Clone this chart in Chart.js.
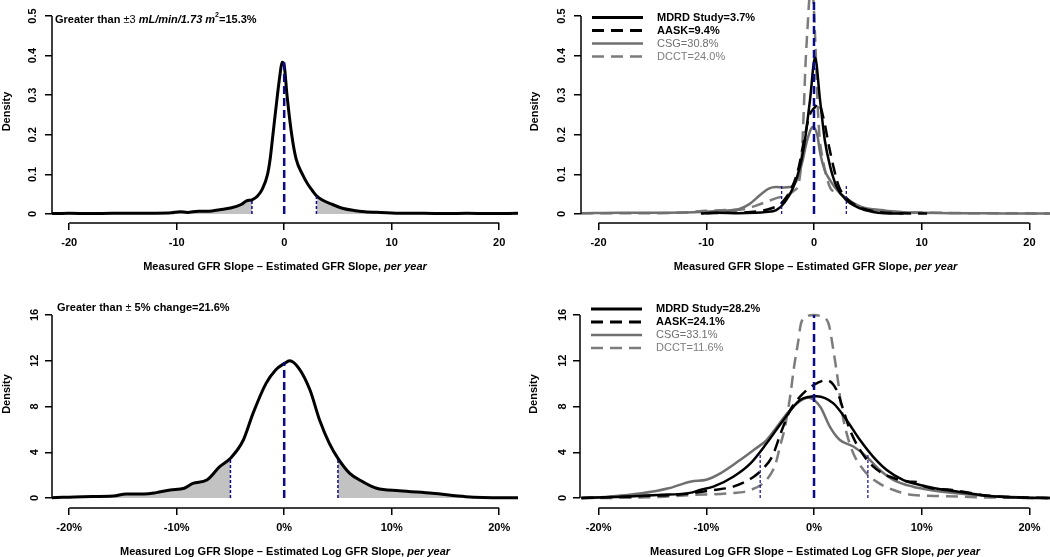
<!DOCTYPE html>
<html>
<head>
<meta charset="utf-8">
<script src="https://cdn.jsdelivr.net/npm/chart.js@4"></script>
<style>
  body { margin: 0; background: #fff; width: 1050px; height: 557px; position: relative; overflow: hidden; }
  canvas { position: absolute; }
</style>
</head>
<body>
<canvas id="absAll" width="525" height="280" style="left:0;top:0"></canvas>
<canvas id="absStudy" width="525" height="280" style="left:525px;top:0"></canvas>
<canvas id="logAll" width="525" height="277" style="left:0;top:280px"></canvas>
<canvas id="logStudy" width="525" height="277" style="left:525px;top:280px"></canvas>
<script>
// axis ticks
const slopeTicks = [-20, -10, 0, 10, 20];
const absDensityTicks = [0, 0.1, 0.2, 0.3, 0.4, 0.5];
const logDensityTicks = [0, 4, 8, 12, 16];

// labels
const studies = ['MDRD Study', 'AASK', 'CSG', 'DCCT'];
const absShare = ['3.7', '9.4', '30.8', '24.0'];
const logShare = ['28.2', '24.1', '33.1', '11.6'];
const absPooledShare = '15.3';
const logPooledShare = '21.6';
const absCut = 3;
const logCut = 5;

// pooled density, measured - estimated GFR slope (ml/min/1.73m2 per year)
const absAllX = [-21.6,-20,-18,-16,-14,-12,-10.5,-9.7,-9,-8,-7,-6,-5,-4,-3.5,-3,-2.5,-2,-1.55,-1.3,-1.05,-0.63,-0.4,-0.2,0,0.26,0.7,1.1,1.7,2.2,2.6,3,3.5,4.5,5.5,6.5,7.5,9,11,13,15,17,19,21.75];
const absAllY = [0.001,0.002,0.001,0.002,0.002,0.002,0.003,0.006,0.004,0.007,0.007,0.011,0.015,0.024,0.033,0.036,0.045,0.065,0.1,0.14,0.2,0.3,0.35,0.383,0.375,0.3,0.2,0.14,0.1,0.075,0.06,0.046,0.036,0.024,0.014,0.009,0.006,0.004,0.002,0.002,0.001,0.002,0.001,0.002];

// per study densities
const absMdrdX = [-10.5,-9,-7,-5.5,-4.5,-3.5,-2.7,-1.9,-1.3,-0.84,-0.37,0.1,0.56,1.0,1.5,2.1,3.0,4.3,5.5,6.5,8.3];
const absMdrdY = [0.001,0.003,0.002,0.003,0.005,0.01,0.03,0.069,0.12,0.187,0.288,0.395,0.288,0.187,0.12,0.069,0.035,0.014,0.005,0.002,0.001];
const absAaskX = [-10,-8,-6.5,-5,-4,-3,-2,-1.4,-0.9,-0.4,0.1,0.4,0.9,1.4,1.8,2.3,3,4,5,6,7.5,10.5];
const absAaskY = [0.002,0.003,0.004,0.008,0.014,0.028,0.07,0.12,0.19,0.25,0.27,0.28,0.24,0.17,0.12,0.07,0.04,0.02,0.01,0.005,0.002,0.001];
const absCsgX = [-21.6,-18,-15,-12,-10,-8,-7,-6,-5,-4.2,-3.5,-2.8,-2.2,-1.6,-1.1,-0.6,-0.1,0.3,0.6,1.0,1.5,1.9,2.5,3.2,4.4,6,8,10,13,16,19,21.9];
const absCsgY = [0.002,0.003,0.003,0.004,0.006,0.009,0.012,0.025,0.048,0.064,0.068,0.067,0.068,0.085,0.13,0.19,0.22,0.2,0.15,0.11,0.085,0.069,0.05,0.035,0.018,0.01,0.005,0.003,0.002,0.002,0.001,0.001];
const absDcctX = [-21.6,-16,-12,-10,-8,-6.5,-5.5,-4.5,-3.5,-2.5,-1.9,-1.4,-1.15,-0.95,-0.8,-0.6,-0.35,-0.1,0.1,0.3,0.5,0.8,1.2,1.6,2.2,3,4,5,6.3,7,9,12,15,18,22];
const absDcctY = [0.002,0.002,0.004,0.008,0.01,0.012,0.02,0.03,0.04,0.048,0.058,0.08,0.14,0.26,0.37,0.47,0.56,0.55,0.45,0.3,0.2,0.14,0.09,0.062,0.055,0.04,0.02,0.01,0.01,0.006,0.004,0.003,0.002,0.002,0.001];

// pooled density, log slope difference (% per year)
const logAllX = [-21.6,-18.7,-15.9,-14.7,-13,-11.9,-10.6,-9.3,-8.5,-7.2,-6,-5,-3.8,-2.9,-1.7,-0.8,0,0.5,1.4,2.4,3.3,4.2,5,6.1,7.3,8.6,10.7,13.8,16.9,18.5,21.75];
const logAllY = [0.02,0.12,0.17,0.35,0.35,0.47,0.7,0.85,1.28,1.57,2.74,3.47,5.07,7.4,10.0,11.2,11.75,12.0,11.3,9.44,6.8,4.78,3.47,2.16,1.43,0.85,0.64,0.41,0.12,0.05,0.02];

const logMdrdX = [-21.6,-17.5,-14.5,-11.4,-10.6,-9.35,-7.5,-5.9,-4.4,-2.85,-1.3,0.25,1.8,3.03,4.27,5.5,6.75,8.3,9.84,11.2,13.4,16.5,19.6,21.9];
const logMdrdY = [0.0,0.12,0.26,0.47,0.7,0.99,1.86,3.03,4.78,6.8,8.56,8.9,8.27,6.8,5.07,3.6,2.45,1.57,1.14,0.85,0.55,0.15,0.03,0.0];
const logAaskX = [-21.6,-18,-15,-13.5,-11.4,-9.35,-7.5,-5.6,-4.7,-3.9,-3.0,-2.2,-1.3,0,1.18,2.1,2.72,3.34,4.27,5.5,7.06,8.9,9.5,10.3,12.8,16.5,19.5,21.9];
const logAaskY = [0.0,0.1,0.2,0.25,0.41,0.7,0.99,1.86,2.6,3.6,5.9,7.7,8.86,9.9,10.3,9.44,7.7,5.94,4.2,2.74,1.86,1.43,1.4,0.99,0.7,0.17,0.05,0.0];
const logCsgX = [-21.6,-19.1,-16,-13.5,-11.4,-10,-8.7,-6.9,-5.6,-4.4,-3.46,-2.5,-1.6,-0.53,0.56,1.49,2.4,3.65,4.9,6.1,7.4,9.2,10.8,11.9,15,18,21.9];
const logCsgY = [0.0,0.12,0.41,0.85,1.45,1.6,2.16,3.3,4.2,5.07,6.2,7.4,8.27,8.77,8.0,6.2,5.07,4.5,3.6,2.45,1.57,0.99,0.7,0.55,0.26,0.1,0.0];
const logDcctX = [-21.6,-17.5,-13.9,-11.4,-8.1,-5.9,-4.4,-3.6,-3.16,-2.7,-2.2,-1.85,-1.5,-1.2,-0.6,0,0.6,1.33,1.8,2.26,2.57,3.03,3.65,4.6,5.8,7.4,9.2,11.9,15,18,21.9];
const logDcctY = [0.0,0.02,0.12,0.26,0.4,0.7,1.6,2.9,4.5,6.2,9.0,11.5,13.5,15.3,15.9,16.0,15.9,15.3,12.9,10.0,7.7,5.65,3.9,2.45,1.43,0.7,0.26,0.17,0.07,0.02,0.0];

// heights of the reference lines at -cut, 0, +cut
const absAllMarks = [0.036, 0.383, 0.046];
const absStudyMarks = [0.073, 0.56, 0.073];
const logAllMarks = [3.47, 11.9, 3.47];
const logStudyMarks = [3.76, 16, 3.76];

// styling
const FAM = "'Liberation Sans', Arial, sans-serif";
const studyColor = ['#000000', '#000000', '#6f6f6f', '#7c7c7c'];
const studyDash = [[], [12, 7], [], [12, 7]];
const studyBold = [true, true, false, false];
const navy = '#0b0b8a';

function pts(xs, ys) {
  return xs.map((x, i) => ({ x: x, y: ys[i] }));
}

function curve(xs, ys, color, width, dash) {
  return {
    data: pts(xs, ys), borderColor: color, borderWidth: width, borderDash: dash,
    pointRadius: 0, cubicInterpolationMode: 'monotone', fill: false, order: 1
  };
}

function tail(xs, ys, keep) {
  return {
    data: pts(xs, ys).filter(p => keep(p.x)), borderColor: 'rgba(0,0,0,0)', borderWidth: 0,
    backgroundColor: '#c2c2c2', fill: 'origin', pointRadius: 0, cubicInterpolationMode: 'monotone', order: 3
  };
}

function marks(cut, tops, thin) {
  return [-cut, 0, cut].map((x, i) => ({
    data: [{ x: x, y: 0 }, { x: x, y: tops[i] }],
    borderColor: navy,
    borderWidth: i === 1 ? 2.5 : thin,
    borderDash: i === 1 ? [8, 4] : [3, 2],
    pointRadius: 0, fill: false, order: 0
  }));
}

// mixed-style text (bold / italic / superscript pieces)
function drawRich(ctx, segs, x, y, align) {
  let w = 0;
  segs.forEach(s => { ctx.font = s.font; w += ctx.measureText(s.text).width; });
  let cx = align === 'center' ? x - w / 2 : x;
  ctx.textAlign = 'left';
  ctx.textBaseline = 'middle';
  segs.forEach(s => {
    ctx.font = s.font;
    ctx.fillStyle = s.color || '#000';
    ctx.fillText(s.text, cx, y + (s.dy || 0));
    cx += ctx.measureText(s.text).width;
  });
}

// R-like axis lines, x title, note and key
const rLook = {
  id: 'rLook',
  afterDraw(chart, args, o) {
    const { ctx, chartArea: a, scales: { x, y } } = chart;
    ctx.save();
    ctx.strokeStyle = '#000';
    ctx.lineWidth = 1.5;
    ctx.beginPath();
    const xt = x.ticks, yt = y.ticks;
    ctx.moveTo(x.getPixelForValue(xt[0].value), a.bottom);
    ctx.lineTo(x.getPixelForValue(xt[xt.length - 1].value), a.bottom);
    ctx.moveTo(a.left, y.getPixelForValue(yt[0].value));
    ctx.lineTo(a.left, y.getPixelForValue(yt[yt.length - 1].value));
    ctx.stroke();

    drawRich(ctx, o.xTitle, (a.left + a.right) / 2, a.bottom + 44, 'center');
    if (o.note) drawRich(ctx, o.note, a.left + o.noteX, a.top + o.noteY, 'left');

    if (o.key) {
      o.key.forEach((k, i) => {
        const yy = a.top + o.keyTop + i * 13;
        ctx.beginPath();
        ctx.setLineDash(k.dash);
        ctx.strokeStyle = k.color;
        ctx.lineWidth = k.bold ? 3 : 2.5;
        ctx.moveTo(a.left + 11, yy);
        ctx.lineTo(a.left + 62, yy);
        ctx.stroke();
        ctx.setLineDash([]);
        drawRich(ctx, [{ text: k.text, color: k.color, font: (k.bold ? 'bold ' : '') + '11px ' + FAM }], a.left + 76, yy, 'left');
      });
    }
    ctx.restore();
  }
};

function bold(t) { return { text: t, font: 'bold 11px ' + FAM }; }
function boldItalic(t) { return { text: t, font: 'italic bold 11px ' + FAM }; }
function plain(t) { return { text: t, font: '11px ' + FAM }; }

function makePanel(id, p) {
  const tickFont = { family: FAM, size: 11, weight: 'bold' };
  new Chart(document.getElementById(id), {
    type: 'line',
    data: { datasets: p.datasets },
    options: {
      responsive: false,
      animation: false,
      events: [],
      layout: { padding: { right: p.padRight, top: 0, left: 0, bottom: 0 }, autoPadding: false },
      plugins: {
        legend: { display: false },
        tooltip: { enabled: false },
        rLook: { xTitle: p.xTitle, note: p.note, noteX: p.noteX, noteY: p.noteY, key: p.key, keyTop: p.keyTop }
      },
      scales: {
        x: {
          type: 'linear', min: p.xMin, max: p.xMax,
          afterBuildTicks: s => { s.ticks = slopeTicks.map(v => ({ value: v })); },
          afterFit: s => { s.height = p.xHeight; s.paddingLeft = 0; s.paddingRight = 0; },
          ticks: { autoSkip: false, maxRotation: 0, padding: 6, color: '#000', font: tickFont, callback: p.fmt },
          grid: { drawOnChartArea: false, drawTicks: true, tickLength: 7, color: '#000', lineWidth: 1.5 },
          border: { display: false }
        },
        y: {
          type: 'linear', min: p.yMin, max: p.yMax,
          afterBuildTicks: s => { s.ticks = p.yTicks.map(v => ({ value: v })); },
          afterFit: s => { s.width = p.yWidth; s.paddingTop = 0; s.paddingBottom = 0; },
          ticks: { autoSkip: false, minRotation: 90, maxRotation: 90, crossAlign: 'center', padding: 4, color: '#000', font: tickFont },
          grid: { drawOnChartArea: false, drawTicks: true, tickLength: 7, color: '#000', lineWidth: 1.5 },
          border: { display: false },
          title: { display: true, text: 'Density', color: '#000', font: tickFont, padding: { top: p.titlePad, bottom: 0 } }
        }
      }
    },
    plugins: [rLook]
  });
}

const absTitle = [bold('Measured GFR Slope \u2013 Estimated GFR Slope, '), boldItalic('per year')];
const logTitle = [bold('Measured Log GFR Slope \u2013 Estimated Log GFR Slope, '), boldItalic('per year')];
const pctFmt = v => v + '%';

function studyKey(shares) {
  return studies.map((s, i) => ({ text: s + '=' + shares[i] + '%', color: studyColor[i], dash: studyDash[i], bold: studyBold[i] }));
}

makePanel('absAll', {
  datasets: [
    ...marks(absCut, absAllMarks, 1.5),
    curve(absAllX, absAllY, '#000', 3, []),
    tail(absAllX, absAllY, v => v <= -absCut),
    tail(absAllX, absAllY, v => v >= absCut)
  ],
  xMin: -21.6, xMax: 21.75, yMin: -0.0227, yMax: 0.5404, yTicks: absDensityTicks,
  yWidth: 52, padRight: 7, xHeight: 57, titlePad: 0,
  xTitle: absTitle,
  note: [bold('Greater than '), plain('\u00b1' + absCut + ' '), boldItalic('mL/min/1.73'), boldItalic(' m'),
         { text: '2', font: 'bold 7px ' + FAM, dy: -5 }, bold('=' + absPooledShare + '%')],
  noteX: 3, noteY: 20
});

makePanel('absStudy', {
  datasets: [
    ...marks(absCut, absStudyMarks, 1.2),
    curve(absMdrdX, absMdrdY, studyColor[0], 2.5, studyDash[0]),
    curve(absAaskX, absAaskY, studyColor[1], 2.5, studyDash[1]),
    curve(absCsgX, absCsgY, studyColor[2], 2.5, studyDash[2]),
    curve(absDcctX, absDcctY, studyColor[3], 2.5, studyDash[3])
  ],
  xMin: -21.63, xMax: 21.91, yMin: -0.0227, yMax: 0.5404, yTicks: absDensityTicks,
  yWidth: 56, padRight: 0, xHeight: 57, titlePad: 3,
  xTitle: absTitle,
  key: studyKey(absShare), keyTop: 17.5
});

makePanel('logAll', {
  datasets: [
    ...marks(logCut, logAllMarks, 1.5),
    curve(logAllX, logAllY, '#000', 3, []),
    tail(logAllX, logAllY, v => v <= -logCut),
    tail(logAllX, logAllY, v => v >= logCut)
  ],
  xMin: -21.6, xMax: 21.75, yMin: -0.874, yMax: 19.06, yTicks: logDensityTicks,
  yWidth: 52, padRight: 7, xHeight: 49, titlePad: 0, fmt: pctFmt,
  xTitle: logTitle,
  note: [bold('Greater than '), plain('\u00b1 '), bold(logCut + '% change=' + logPooledShare + '%')],
  noteX: 5, noteY: 28
});

makePanel('logStudy', {
  datasets: [
    ...marks(logCut, logStudyMarks, 1.2),
    curve(logMdrdX, logMdrdY, studyColor[0], 2.5, studyDash[0]),
    curve(logAaskX, logAaskY, studyColor[1], 2.5, studyDash[1]),
    curve(logCsgX, logCsgY, studyColor[2], 2.5, studyDash[2]),
    curve(logDcctX, logDcctY, studyColor[3], 2.5, studyDash[3])
  ],
  xMin: -21.73, xMax: 21.91, yMin: -0.874, yMax: 19.06, yTicks: logDensityTicks,
  yWidth: 55, padRight: 0, xHeight: 49, titlePad: 2, fmt: pctFmt,
  xTitle: logTitle,
  key: studyKey(logShare), keyTop: 29
});
</script>
</body>
</html>
